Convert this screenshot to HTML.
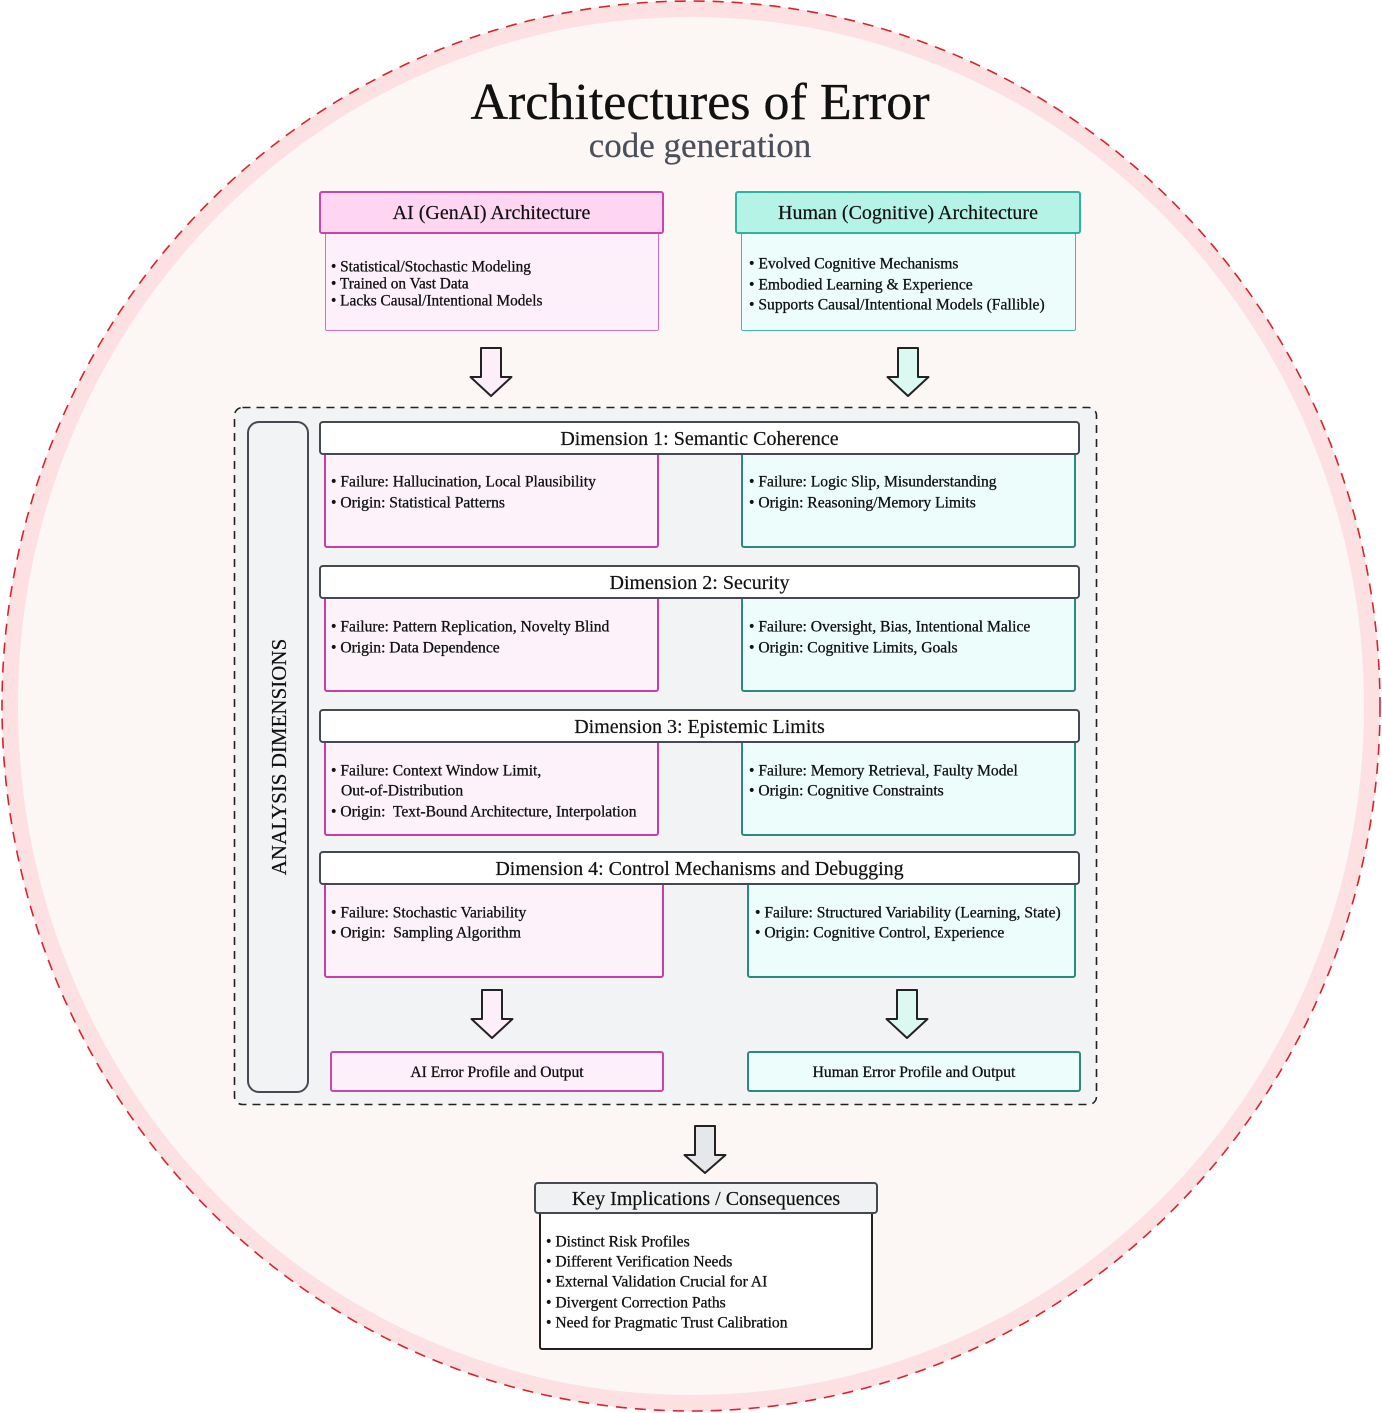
<!DOCTYPE html>
<html><head><meta charset="utf-8">
<style>
html,body{margin:0;padding:0;background:#fff;}
body{width:1382px;height:1413px;position:relative;overflow:hidden;font-family:"Liberation Serif",serif;color:#111;}
.a{position:absolute;box-sizing:border-box;}
.t{position:absolute;white-space:nowrap;font-size:15.6px;line-height:16px;color:#111;-webkit-text-stroke:0.3px #111;transform:translateY(1.5px);}
.hd{position:absolute;box-sizing:border-box;display:flex;align-items:center;justify-content:center;font-size:20px;color:#111;white-space:nowrap;-webkit-text-stroke:0.2px #111;padding-top:2px;}
</style></head><body>
<svg class="a" style="left:0;top:0" width="1382" height="1413" viewBox="0 0 1382 1413">
  <ellipse cx="691" cy="706" rx="681" ry="697" fill="#fcf6f5" stroke="#fde0e1" stroke-width="16"/>
  <ellipse cx="691" cy="706" rx="689" ry="705" fill="none" stroke="#d8232f" stroke-width="1.6" stroke-dasharray="11 8"/>
  <rect x="234.5" y="407.5" width="862" height="697" rx="8" fill="#f2f3f5" stroke="#222" stroke-width="1.6" stroke-dasharray="8 6"/>
  <g stroke="#222" stroke-width="2" stroke-linejoin="round">
    <path d="M481 348 L501 348 L501 377 L511.5 377 L491 396 L470.5 377 L481 377 Z" fill="#fdeefa"/>
    <path d="M898 348 L918 348 L918 377 L928.5 377 L908 396 L887.5 377 L898 377 Z" fill="#dbf8f1"/>
    <path d="M482 990 L502 990 L502 1019 L512.5 1019 L492 1038 L471.5 1019 L482 1019 Z" fill="#fdeefa"/>
    <path d="M897 990 L917 990 L917 1019 L927.5 1019 L907 1038 L886.5 1019 L897 1019 Z" fill="#dbf8f1"/>
    <path d="M695 1126 L715 1126 L715 1155 L725.5 1155 L705 1173 L684.5 1155 L695 1155 Z" fill="#e5e7eb"/>
  </g>
</svg>

<div class="a" style="left:0;top:73px;width:1400px;text-align:center;font-size:52px;line-height:60px;color:#111;-webkit-text-stroke:0.3px #111;">Architectures of Error</div>
<div class="a" style="left:0;top:126px;width:1400px;text-align:center;font-size:35px;line-height:40px;color:#4a4f5a;-webkit-text-stroke:0.2px #4a4f5a;">code generation</div>

<!-- AI top -->
<div class="a" style="left:325px;top:232px;width:334px;height:99px;background:#fdf0fa;border:1.5px solid #d670c0;border-radius:2px;"></div>
<div class="hd" style="left:319px;top:191px;width:345px;height:43px;background:#fed6f2;border:2px solid #c945a9;border-radius:3px;">AI (GenAI) Architecture</div>
<div class="t" style="left:331px;top:258px;font-size:15.3px;">• Statistical/Stochastic Modeling</div>
<div class="t" style="left:331px;top:275px;font-size:15.3px;">• Trained on Vast Data</div>
<div class="t" style="left:331px;top:292px;font-size:15.3px;">• Lacks Causal/Intentional Models</div>

<!-- Human top -->
<div class="a" style="left:741px;top:232px;width:335px;height:99px;background:#edfdfb;border:1.5px solid #44b9a8;border-radius:2px;"></div>
<div class="hd" style="left:735px;top:191px;width:346px;height:43px;background:#b5f3e7;border:2px solid #2fb3a1;border-radius:3px;">Human (Cognitive) Architecture</div>
<div class="t" style="left:749px;top:255px;">• Evolved Cognitive Mechanisms</div>
<div class="t" style="left:749px;top:276px;">• Embodied Learning &amp; Experience</div>
<div class="t" style="left:749px;top:296px;">• Supports Causal/Intentional Models (Fallible)</div>

<!-- Vertical label -->
<div class="a" style="left:247px;top:421px;width:62px;height:672px;border:2px solid #454a52;border-radius:12px;background:#f2f3f5;"></div>
<div class="a" style="left:279px;top:757px;width:0;height:0;">
  <div style="position:absolute;left:-150px;top:-12px;width:300px;text-align:center;font-size:21px;line-height:24px;transform:rotate(-90deg);white-space:nowrap;color:#111;-webkit-text-stroke:0.2px #111;">ANALYSIS DIMENSIONS</div>
</div>

<!-- Dimension 1 -->
<div class="a" style="left:324px;top:452px;width:335px;height:96px;background:#fdf2f9;border:2px solid #c63ea6;border-radius:3px;"></div>
<div class="a" style="left:741px;top:452px;width:335px;height:96px;background:#edfdfc;border:2px solid #2c8a7d;border-radius:3px;"></div>
<div class="hd" style="left:319px;top:421px;width:761px;height:34px;background:#fff;border:2px solid #454a52;border-radius:4px;">Dimension 1: Semantic Coherence</div>
<div class="t" style="left:331px;top:473px;">• Failure: Hallucination, Local Plausibility</div>
<div class="t" style="left:331px;top:494px;">• Origin: Statistical Patterns</div>
<div class="t" style="left:749px;top:473px;">• Failure: Logic Slip, Misunderstanding</div>
<div class="t" style="left:749px;top:494px;">• Origin: Reasoning/Memory Limits</div>

<!-- Dimension 2 -->
<div class="a" style="left:324px;top:596px;width:335px;height:96px;background:#fdf2f9;border:2px solid #c63ea6;border-radius:3px;"></div>
<div class="a" style="left:741px;top:596px;width:335px;height:96px;background:#edfdfc;border:2px solid #2c8a7d;border-radius:3px;"></div>
<div class="hd" style="left:319px;top:565px;width:761px;height:34px;background:#fff;border:2px solid #454a52;border-radius:4px;">Dimension 2: Security</div>
<div class="t" style="left:331px;top:618px;">• Failure: Pattern Replication, Novelty Blind</div>
<div class="t" style="left:331px;top:639px;">• Origin: Data Dependence</div>
<div class="t" style="left:749px;top:618px;">• Failure: Oversight, Bias, Intentional Malice</div>
<div class="t" style="left:749px;top:639px;">• Origin: Cognitive Limits, Goals</div>

<!-- Dimension 3 -->
<div class="a" style="left:324px;top:740px;width:335px;height:96px;background:#fdf2f9;border:2px solid #c63ea6;border-radius:3px;"></div>
<div class="a" style="left:741px;top:740px;width:335px;height:96px;background:#edfdfc;border:2px solid #2c8a7d;border-radius:3px;"></div>
<div class="hd" style="left:319px;top:709px;width:761px;height:34px;background:#fff;border:2px solid #454a52;border-radius:4px;">Dimension 3: Epistemic Limits</div>
<div class="t" style="left:331px;top:762px;">• Failure: Context Window Limit,</div>
<div class="t" style="left:341px;top:782px;">Out-of-Distribution</div>
<div class="t" style="left:331px;top:803px;">• Origin:&nbsp; Text-Bound Architecture, Interpolation</div>
<div class="t" style="left:749px;top:762px;">• Failure: Memory Retrieval, Faulty Model</div>
<div class="t" style="left:749px;top:782px;">• Origin: Cognitive Constraints</div>

<!-- Dimension 4 -->
<div class="a" style="left:324px;top:882px;width:340px;height:96px;background:#fdf2f9;border:2px solid #c63ea6;border-radius:3px;"></div>
<div class="a" style="left:747px;top:882px;width:329px;height:96px;background:#edfdfc;border:2px solid #2c8a7d;border-radius:3px;"></div>
<div class="hd" style="left:319px;top:851px;width:761px;height:34px;background:#fff;border:2px solid #454a52;border-radius:4px;">Dimension 4: Control Mechanisms and Debugging</div>
<div class="t" style="left:331px;top:904px;">• Failure: Stochastic Variability</div>
<div class="t" style="left:331px;top:924px;">• Origin:&nbsp; Sampling Algorithm</div>
<div class="t" style="left:755px;top:904px;">• Failure: Structured Variability (Learning, State)</div>
<div class="t" style="left:755px;top:924px;">• Origin: Cognitive Control, Experience</div>

<!-- Outputs -->
<div class="hd" style="left:330px;top:1051px;width:334px;height:41px;background:#fdf0fa;border:2px solid #c945a9;border-radius:3px;font-size:15.6px;-webkit-text-stroke:0.3px #111;">AI Error Profile and Output</div>
<div class="hd" style="left:747px;top:1051px;width:334px;height:41px;background:#edfdfb;border:2px solid #2c8a7d;border-radius:3px;font-size:15.6px;-webkit-text-stroke:0.3px #111;">Human Error Profile and Output</div>

<!-- Key implications -->
<div class="a" style="left:539px;top:1211px;width:334px;height:139px;background:#fff;border:2px solid #222;border-radius:3px;"></div>
<div class="hd" style="left:534px;top:1182px;width:344px;height:32px;background:#f0f1f3;border:2px solid #454a52;border-radius:4px;">Key Implications / Consequences</div>
<div class="t" style="left:546px;top:1233px;">• Distinct Risk Profiles</div>
<div class="t" style="left:546px;top:1253px;">• Different Verification Needs</div>
<div class="t" style="left:546px;top:1273px;">• External Validation Crucial for AI</div>
<div class="t" style="left:546px;top:1294px;">• Divergent Correction Paths</div>
<div class="t" style="left:546px;top:1314px;">• Need for Pragmatic Trust Calibration</div>
</body></html>
